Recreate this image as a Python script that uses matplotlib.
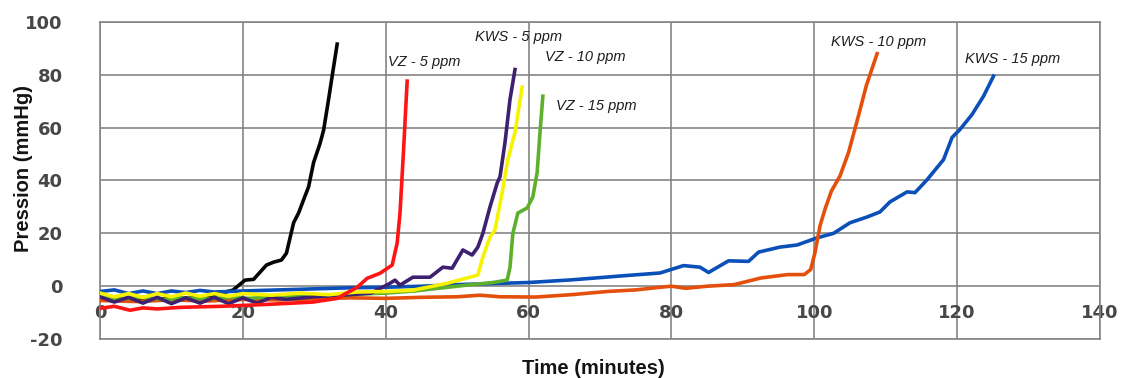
import numpy as np
import matplotlib
import matplotlib.pyplot as plt
matplotlib.use('Agg')

# control (black)
ctrl_t = [0, 2, 4, 6, 8, 10, 12, 14, 16, 16.8, 18.6, 20.3, 21.5, 23.3, 24.3, 25.4, 26.1,
          27.1, 27.8, 28.5, 29.2, 29.9, 30.8, 31.3, 32.0, 32.5, 33.2]
ctrl_p = [-4, -5, -4.5, -5.2, -4.6, -5, -4.4, -4.2, -3.6, -2.7, -1.5, 2.3, 2.6, 8, 9.1, 9.9, 12.5,
          24, 27.7, 32.7, 37.6, 46.8, 54, 59, 70.7, 79.5, 91.6]

# VZ - 5 ppm (red)
vz5_t = [0, 2, 4.2, 6, 8, 11.2, 14, 17, 20.6, 24, 27, 29.8, 33.2, 36, 37.4, 39.2, 40.9,
         41.6, 42.0, 42.5, 43.0]
vz5_p = [-8.4, -7.6, -9.1, -8.2, -8.6, -8, -7.8, -7.6, -7.2, -6.8, -6.4, -6, -4.6, -0.4, 3, 4.9, 8,
         16.3, 27.7, 51.7, 77.6]

# KWS - 5 ppm (purple)
kws5_t = [0, 2, 4, 6, 8, 10, 12, 14, 16, 18, 20, 22, 24, 26, 30, 34, 38, 40.6, 41.3, 42.0,
          43.8, 46.2, 48.0, 49.3, 50.8, 52.1, 52.9, 53.6, 54.6, 55.6, 56.0, 56.7, 57.4, 58.1]
kws5_p = [-4, -6, -4.2, -6.4, -4.2, -6.6, -4.4, -6.4, -4.2, -6.6, -4.4, -6.4, -4.2, -5, -4, -3.4, -2.6,
          1.1, 2.3, 0.4, 3.4, 3.4, 7.2, 6.8, 13.7, 11.8, 14.8, 20, 30, 39, 41.4, 54.4, 70.7, 82]

# VZ - 10 ppm (yellow)
vz10_t = [0, 2, 4, 6, 8, 10, 12, 14, 16, 18, 20, 24, 28, 32, 36, 40, 43.8, 48.6, 52.9,
          53.6, 54.6, 55.3, 56.3, 57.1, 58.1, 59.1]
vz10_p = [-2.6, -4, -2.8, -4.2, -2.8, -4, -2.6, -3.8, -2.8, -3.8, -2.8, -3.4, -2.6, -3.2, -2.2, -2,
          -1.5, 1.1, 4.2, 11, 18.6, 21.3, 35.4, 47.9, 58.2, 75.3]

# VZ - 15 ppm (green)
vz15_t = [0, 3, 6, 9, 12, 15, 18, 21, 24, 28, 32, 36, 40, 44, 48, 52, 55, 57.0, 57.4, 57.8,
          58.5, 59.8, 60.6, 61.2, 61.6, 62.0]
vz15_p = [-4, -4.8, -4.2, -5, -4.4, -4.8, -4.2, -4.6, -4, -4, -3.6, -3, -2.6, -1.8, -0.6, 0.6, 1.4,
          2.3, 7.2, 20, 27.7, 29.6, 33.8, 43, 58.2, 71.9]

# KWS - 10 ppm (orange)
kws10_t = [0, 5, 10, 15, 20, 25, 30, 35, 40, 45, 50, 53.2, 56, 61, 66, 71, 75, 78.4, 80, 82,
           85, 88.8, 92.5, 96.3, 98.6, 99.5, 100.1, 100.8, 101.5, 102.4, 103.6, 104.8,
           106.2, 107.3, 108.8]
kws10_p = [-5.4, -5.8, -5.2, -5.6, -5, -5.2, -4.8, -4.4, -4.6, -4.2, -4, -3.4, -4, -4.1, -3.2, -2, -1.4,
           -0.4, 0, -0.8, 0, 0.6, 3.1, 4.4, 4.4, 6.3, 12.7, 22.8, 29.1, 36, 41.7, 50.6,
           64.6, 76, 88]

# KWS - 15 ppm (blue)
kws15_t = [0, 2, 4, 6, 8, 10, 12, 14, 16, 20, 25, 30, 35, 40, 45, 50, 55, 60, 66, 73.5, 78.4,
           81.7, 84.0, 85.2, 88.0, 90.8, 92.2, 95.2, 97.6, 100.4, 102.7, 105.0, 107.4, 109.2,
           110.6, 113.0, 114.1, 115.8, 118.1, 119.3, 120.4, 122.1, 123.7, 125.1]
kws15_p = [-2, -1.4, -2.8, -1.8, -2.8, -1.8, -2.4, -1.6, -2.2, -1.8, -1.4, -1, -0.6, -0.4, 0, 0.6, 1, 1.4,
           2.4, 4, 5, 7.8, 7.2, 5.2, 9.6, 9.4, 12.9, 14.8, 15.6, 18.3, 20, 24, 26.2, 28.1,
           31.9, 35.7, 35.4, 40.3, 47.9, 56.3, 59.3, 65, 71.9, 79.5]

series = [
    (ctrl_t, ctrl_p, '#050505'),
    (kws15_t, kws15_p, '#0b4fb8'),
    (kws10_t, kws10_p, '#e4500c'),
    (vz15_t, vz15_p, '#5cb02c'),
    (kws5_t, kws5_p, '#3d2070'),
    (vz10_t, vz10_p, '#f6f200'),
    (vz5_t, vz5_p, '#ff1414'),
]

labels = ['VZ - 5 ppm', 'KWS - 5 ppm', 'VZ - 10 ppm', 'VZ - 15 ppm', 'KWS - 10 ppm', 'KWS - 15 ppm']
label_x = [40.3, 52.5, 62.3, 63.9, 102.4, 121.1]
label_y = [84.8, 94.3, 86.7, 68.0, 92.4, 85.9]

xticks = [0, 20, 40, 60, 80, 100, 120, 140]
yticks = [-20, 0, 20, 40, 60, 80, 100]

fig = plt.figure(figsize=(11.24, 3.78), dpi=100)
ax = fig.add_axes([0.089, 0.103, 0.8896, 0.839])

for t, p, c in series:
    ax.plot(t, p, color=c, lw=2.6, solid_joinstyle='round', zorder=3)

for txt, lx, ly in zip(labels, label_x, label_y):
    ax.text(lx, ly, txt, fontsize=10.5, style='italic', family='Liberation Sans',
            color='#1e1e1e', ha='left', va='center', zorder=4)

ax.set_xlim(0, 140)
ax.set_ylim(-20, 100)
ax.set_xticks(xticks)
ax.set_yticks(yticks)
ax.grid(True, color='#858585', lw=1.2)
ax.set_axisbelow(True)
for s in ax.spines.values():
    s.set_color('#858585')
    s.set_linewidth(1.2)

ax.tick_params(axis='both', length=0)
ax.set_xticklabels([])
ax.set_yticklabels([str(v) for v in yticks], fontsize=13, fontweight='bold',
                   color='#474747', family='DejaVu Sans')
ax.tick_params(axis='y', pad=27)
for v in xticks:
    ax.text(v, -10, str(v), fontsize=13, fontweight='bold', color='#474747',
            family='DejaVu Sans', ha='center', va='center', zorder=2)

fig.text(0.528, 0.026, 'Time (minutes)', fontsize=14.5, fontweight='bold',
         family='Liberation Sans', color='#141414', ha='center', va='center')
fig.text(0.021, 0.553, 'Pression (mmHg)', fontsize=14.5, fontweight='bold',
         family='Liberation Sans', color='#141414', ha='center', va='center', rotation=90)

fig.savefig('out.png', dpi=100)
